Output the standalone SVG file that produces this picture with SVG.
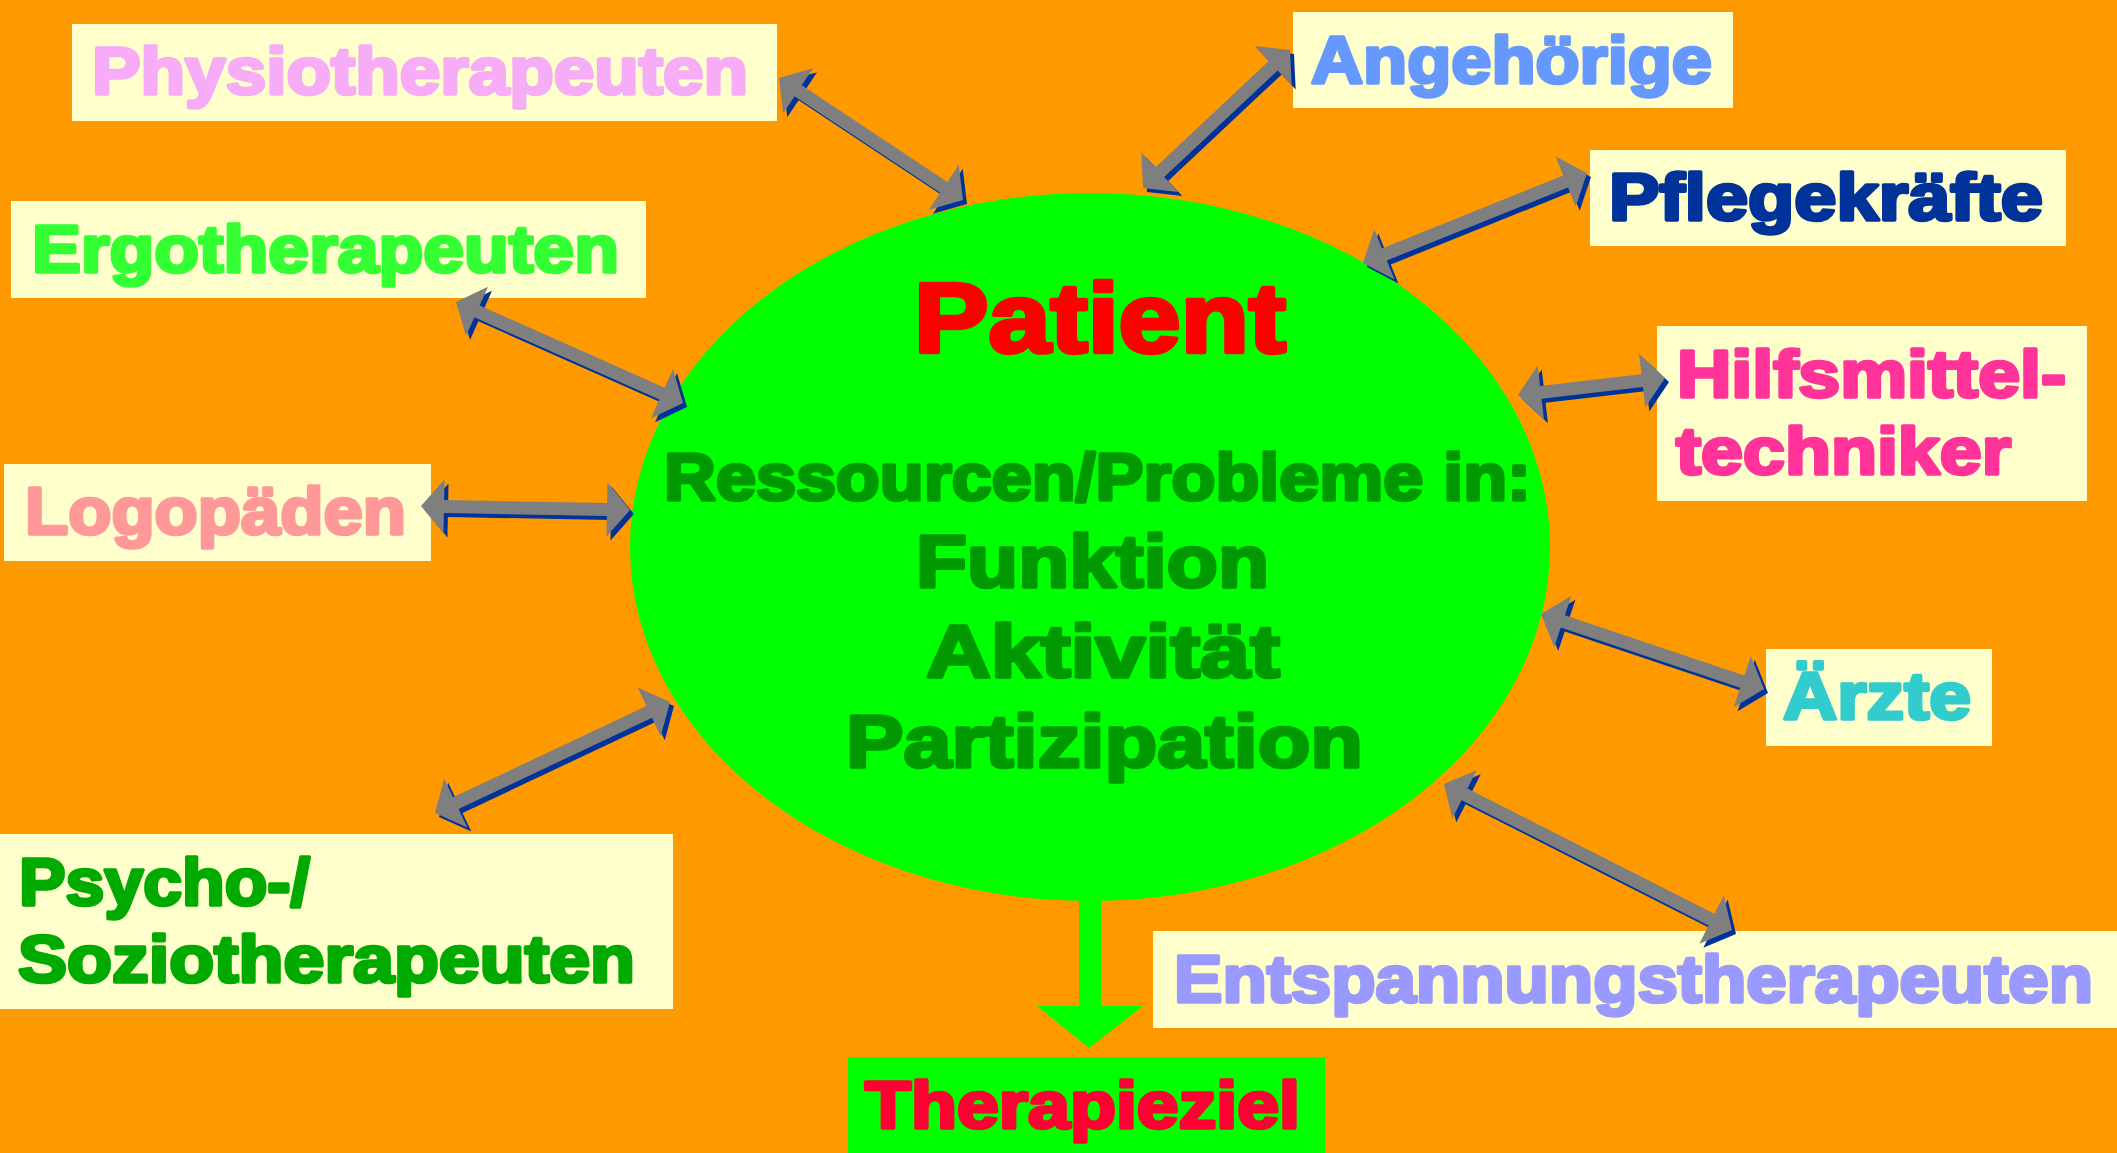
<svg xmlns="http://www.w3.org/2000/svg" xmlns:xlink="http://www.w3.org/1999/xlink" width="2117" height="1153" viewBox="0 0 2117 1153">
<style>
.box{fill:#FFFFCC}
.t{font-family:"Liberation Sans",Arial,sans-serif;font-weight:bold;font-size:66px;stroke-width:3.5px;stroke-linejoin:round}
.big{font-size:75px}
.shadow{fill:#003399}
.arrow{fill:#7F7F7F}
</style>
<defs>
<path id="a1" d="M0,0 L23,-27 L23,-6.5 L197.8,-6.5 L197.8,-27 L220.8,0 L197.8,27 L197.8,6.5 L23,6.5 L23,27 Z"/>
<path id="a2" d="M0,0 L23,-27 L23,-6.5 L178.6,-6.5 L178.6,-27 L201.6,0 L178.6,27 L178.6,6.5 L23,6.5 L23,27 Z"/>
<path id="a3" d="M0,0 L23,-27 L23,-6.5 L218.4,-6.5 L218.4,-27 L241.4,0 L218.4,27 L218.4,6.5 L23,6.5 L23,27 Z"/>
<path id="a4" d="M0,0 L23,-27 L23,-6.5 L225.5,-6.5 L225.5,-27 L248.5,0 L225.5,27 L225.5,6.5 L23,6.5 L23,27 Z"/>
<path id="a5" d="M0,0 L23,-27 L23,-6.5 L186,-6.5 L186,-27 L209,0 L186,27 L186,6.5 L23,6.5 L23,27 Z"/>
<path id="a6" d="M0,0 L23,-27 L23,-6.5 L236.9,-6.5 L236.9,-27 L259.9,0 L236.9,27 L236.9,6.5 L23,6.5 L23,27 Z"/>
<path id="a7" d="M0,0 L23,-27 L23,-6.5 L125,-6.5 L125,-27 L148,0 L125,27 L125,6.5 L23,6.5 L23,27 Z"/>
<path id="a8" d="M0,0 L23,-27 L23,-6.5 L212.3,-6.5 L212.3,-27 L235.3,0 L212.3,27 L212.3,6.5 L23,6.5 L23,27 Z"/>
<path id="a9" d="M0,0 L23,-27 L23,-6.5 L299.9,-6.5 L299.9,-27 L322.9,0 L299.9,27 L299.9,6.5 L23,6.5 L23,27 Z"/>
</defs>
<rect x="0" y="0" width="2117" height="1153" fill="#FF9900"/>

<g id="patient">
<ellipse cx="1090" cy="547" rx="460" ry="354" fill="#00FF00"/>
<text class="t" x="914" y="352" style="font-size:99px;fill:#FF0000;stroke:#FF0000;stroke-width:4.5px" textLength="372" lengthAdjust="spacingAndGlyphs">Patient</text>
<text class="t" x="664" y="500" style="fill:#009900;stroke:#009900" textLength="867" lengthAdjust="spacingAndGlyphs">Ressourcen/Probleme in:</text>
<text class="t big" x="916" y="587" style="fill:#009900;stroke:#009900" textLength="353" lengthAdjust="spacingAndGlyphs">Funktion</text>
<text class="t big" x="926" y="677" style="fill:#009900;stroke:#009900" textLength="354" lengthAdjust="spacingAndGlyphs">Aktivität</text>
<text class="t big" x="846" y="767" style="fill:#009900;stroke:#009900" textLength="517" lengthAdjust="spacingAndGlyphs">Partizipation</text>
</g>

<g id="physiotherapeuten">
<rect class="box" x="72" y="24" width="705" height="97"/>
<text class="t" x="92" y="94" style="fill:#F7ACF7;stroke:#F7ACF7" textLength="656" lengthAdjust="spacingAndGlyphs">Physiotherapeuten</text>
</g>
<g id="ergotherapeuten">
<rect class="box" x="11" y="201" width="635" height="97"/>
<text class="t" x="32" y="272" style="fill:#33FF33;stroke:#33FF33" textLength="587" lengthAdjust="spacingAndGlyphs">Ergotherapeuten</text>
</g>
<g id="logopaeden">
<rect class="box" x="4" y="464" width="427" height="97"/>
<text class="t" x="25" y="534" style="fill:#FF9999;stroke:#FF9999" textLength="381" lengthAdjust="spacingAndGlyphs">Logopäden</text>
</g>
<g id="psychotherapeuten">
<rect class="box" x="0" y="834" width="673" height="175"/>
<text class="t" x="19" y="905" style="fill:#00AA00;stroke:#00AA00" textLength="291" lengthAdjust="spacingAndGlyphs">Psycho-/</text>
<text class="t" x="18" y="982" style="fill:#00AA00;stroke:#00AA00" textLength="617" lengthAdjust="spacingAndGlyphs">Soziotherapeuten</text>
</g>
<g id="angehoerige">
<rect class="box" x="1293" y="12" width="440" height="96"/>
<text class="t" x="1311" y="83" style="fill:#6699FF;stroke:#6699FF" textLength="401" lengthAdjust="spacingAndGlyphs">Angehörige</text>
</g>
<g id="pflegekraefte">
<rect class="box" x="1590" y="150" width="476" height="96"/>
<text class="t" x="1609" y="220" style="fill:#003399;stroke:#003399" textLength="434" lengthAdjust="spacingAndGlyphs">Pflegekräfte</text>
</g>
<g id="hilfsmitteltechniker">
<rect class="box" x="1657" y="326" width="430" height="175"/>
<text class="t" x="1677" y="397" style="fill:#FF3399;stroke:#FF3399" textLength="389" lengthAdjust="spacingAndGlyphs">Hilfsmittel-</text>
<text class="t" x="1676" y="474" style="fill:#FF3399;stroke:#FF3399" textLength="335" lengthAdjust="spacingAndGlyphs">techniker</text>
</g>
<g id="aerzte">
<rect class="box" x="1766" y="649" width="226" height="97"/>
<text class="t" x="1783" y="719" style="fill:#33CCCC;stroke:#33CCCC" textLength="188" lengthAdjust="spacingAndGlyphs">Ärzte</text>
</g>
<g id="entspannungstherapeuten">
<rect class="box" x="1153" y="931" width="964" height="97"/>
<text class="t" x="1174" y="1002" style="fill:#9999FF;stroke:#9999FF" textLength="919" lengthAdjust="spacingAndGlyphs">Entspannungstherapeuten</text>
</g>
<g id="therapieziel">
<rect x="848" y="1057" width="477" height="96" fill="#00FF00"/>
<text class="t" x="865" y="1128" style="fill:#FF0033;stroke:#FF0033" textLength="435" lengthAdjust="spacingAndGlyphs">Therapieziel</text>
</g>

<g id="connectors">
<g class="shadow" transform="translate(4,4)">
<use xlink:href="#a1" transform="translate(779,78) rotate(33.55)"/>
<use xlink:href="#a2" transform="translate(1143,188) rotate(-43.19)"/>
<use xlink:href="#a3" transform="translate(1363,263) rotate(-21.89)"/>
<use xlink:href="#a4" transform="translate(456,302) rotate(23.99)"/>
<use xlink:href="#a5" transform="translate(421,506) rotate(1.10)"/>
<use xlink:href="#a6" transform="translate(435,813) rotate(-25.28)"/>
<use xlink:href="#a7" transform="translate(1518,395) rotate(-6.60)"/>
<use xlink:href="#a8" transform="translate(1541,614) rotate(18.59)"/>
<use xlink:href="#a9" transform="translate(1444,784) rotate(26.88)"/>
</g>
<g class="arrow">
<use xlink:href="#a1" transform="translate(779,78) rotate(33.55)"/>
<use xlink:href="#a2" transform="translate(1143,188) rotate(-43.19)"/>
<use xlink:href="#a3" transform="translate(1363,263) rotate(-21.89)"/>
<use xlink:href="#a4" transform="translate(456,302) rotate(23.99)"/>
<use xlink:href="#a5" transform="translate(421,506) rotate(1.10)"/>
<use xlink:href="#a6" transform="translate(435,813) rotate(-25.28)"/>
<use xlink:href="#a7" transform="translate(1518,395) rotate(-6.60)"/>
<use xlink:href="#a8" transform="translate(1541,614) rotate(18.59)"/>
<use xlink:href="#a9" transform="translate(1444,784) rotate(26.88)"/>
</g>
<path d="M1079,880 L1101,880 L1101,1006 L1143,1006 L1089,1048 L1037,1006 L1079,1006 Z" fill="#00FF00"/>
</g>
</svg>
